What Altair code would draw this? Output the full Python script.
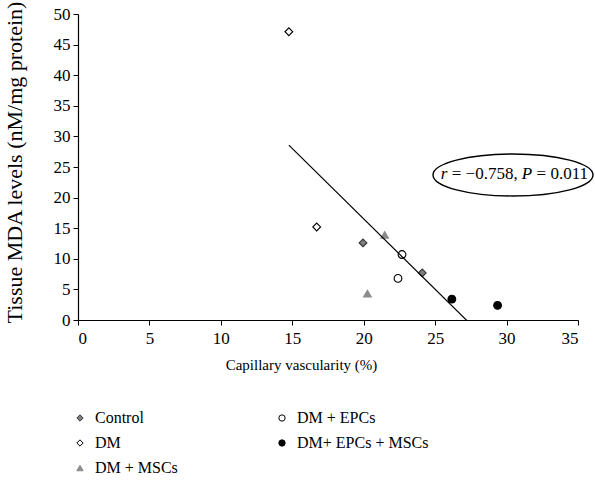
import altair as alt
import pandas as pd

# ---- data ----
groups = ["Control", "Control", "DM", "DM", "DM + MSCs", "DM + MSCs",
          "DM + EPCs", "DM + EPCs", "DM+ EPCs + MSCs", "DM+ EPCs + MSCs"]
capillary = [19.95, 24.10, 14.76, 16.71, 21.47, 20.26, 22.68, 22.40, 26.17, 29.37]
mda = [12.6, 7.7, 47.1, 15.2, 13.9, 4.3, 10.7, 6.8, 3.4, 2.4]

legend_order = ["Control", "DM", "DM + MSCs", "DM + EPCs", "DM+ EPCs + MSCs"]
shapes = ["diamond", "diamond", "triangle-up", "circle", "circle"]
fills = ["#7f7f7f", "#ffffff", "#8c8c8c", "#ffffff", "#000000"]
strokes = ["#333333", "#000000", "#8c8c8c", "#000000", "#000000"]

x_ticks = [0, 5, 10, 15, 20, 25, 30, 35]
y_ticks = [0, 5, 10, 15, 20, 25, 30, 35, 40, 45, 50]

annot_x = [25.4]
annot_y = [23.9]
ellipse_x = [30.45]
ellipse_y = [23.7]

FONT = "Liberation Serif"

df = pd.DataFrame({"group": groups, "x": capillary, "y": mda})

xscale = alt.Scale(domain=[0, 35], nice=False)
yscale = alt.Scale(domain=[0, 50], nice=False)

xaxis = alt.Axis(title="Capillary vascularity (%)", values=x_ticks, labelOverlap=False,
                 labelFont=FONT, labelFontSize=17, labelPadding=5, labelColor="black",
                 titleFont=FONT, titleFontSize=15, titlePadding=11, titleColor="black",
                 titleFontWeight="normal", titleX=223, titleAlign="center",
                 domainColor="black", tickColor="black", tickSize=5, domainWidth=1.2, grid=False)
yaxis = alt.Axis(title="Tissue MDA levels (nM/mg protein)", values=y_ticks, labelOverlap=False,
                 labelFont=FONT, labelFontSize=17, labelPadding=3, labelColor="black",
                 titleFont=FONT, titleFontSize=22, titlePadding=27, titleColor="black",
                 titleFontWeight="normal", titleY=148, titleAlign="center",
                 domainColor="black", tickColor="black", tickSize=5, domainWidth=1.2, grid=False)

X = alt.X("x:Q", scale=xscale, axis=xaxis)
Y = alt.Y("y:Q", scale=yscale, axis=yaxis)

base = alt.Chart(df)

points = base.mark_point(filled=True, size=60, strokeWidth=1.1, opacity=1).encode(
    x=X, y=Y,
    shape=alt.Shape("group:N", scale=alt.Scale(domain=legend_order, range=shapes), title=None,
                    legend=alt.Legend(orient="none", legendX=-6, legendY=396, columns=2,
                                      columnPadding=96, rowPadding=9, direction="vertical")),
    fill=alt.Fill("group:N", scale=alt.Scale(domain=legend_order, range=fills), title=None),
    stroke=alt.Stroke("group:N", scale=alt.Scale(domain=legend_order, range=strokes), title=None),
)

reg = base.transform_regression("x", "y").mark_line(color="black", strokeWidth=1.2, clip=True).encode(
    x=X, y=Y,
)

ell_df = pd.DataFrame({"x": ellipse_x, "y": ellipse_y})
ellipse = alt.Chart(ell_df).mark_point(
    shape="M -1 0 A 1 0.2625 0 1 0 1 0 A 1 0.2625 0 1 0 -1 0 Z",
    size=160 * 160, filled=False, stroke="black", strokeWidth=1.4, opacity=1
).encode(x=X, y=Y)

ann_df = pd.DataFrame({"x": annot_x, "y": annot_y})
pieces = [("r", "italic", 0), ("= \u22120.758,", "normal", 10.9),
          ("P", "italic", 81.0), ("= 0.011", "normal", 95.7)]
texts = []
for txt, style, dx in pieces:
    texts.append(
        alt.Chart(ann_df).mark_text(text=txt, fontStyle=style, align="left", baseline="middle",
                                    dx=dx, font=FONT, fontSize=17, color="black").encode(x=X, y=Y)
    )

chart = alt.layer(points, reg, ellipse, *texts).properties(
    width=500, height=306,
    autosize=alt.AutoSizeParams(type="none"),
    padding={"left": 78, "top": 14, "right": 17, "bottom": 164},
    background="white",
).configure(font=FONT).configure_view(stroke=None).configure_legend(
    labelFont=FONT, labelFontSize=16, labelColor="black", symbolSize=40,
    symbolStrokeWidth=1, labelOffset=7, padding=0,
)

chart.save("out.html", embed_options={"renderer": "svg", "actions": False})
